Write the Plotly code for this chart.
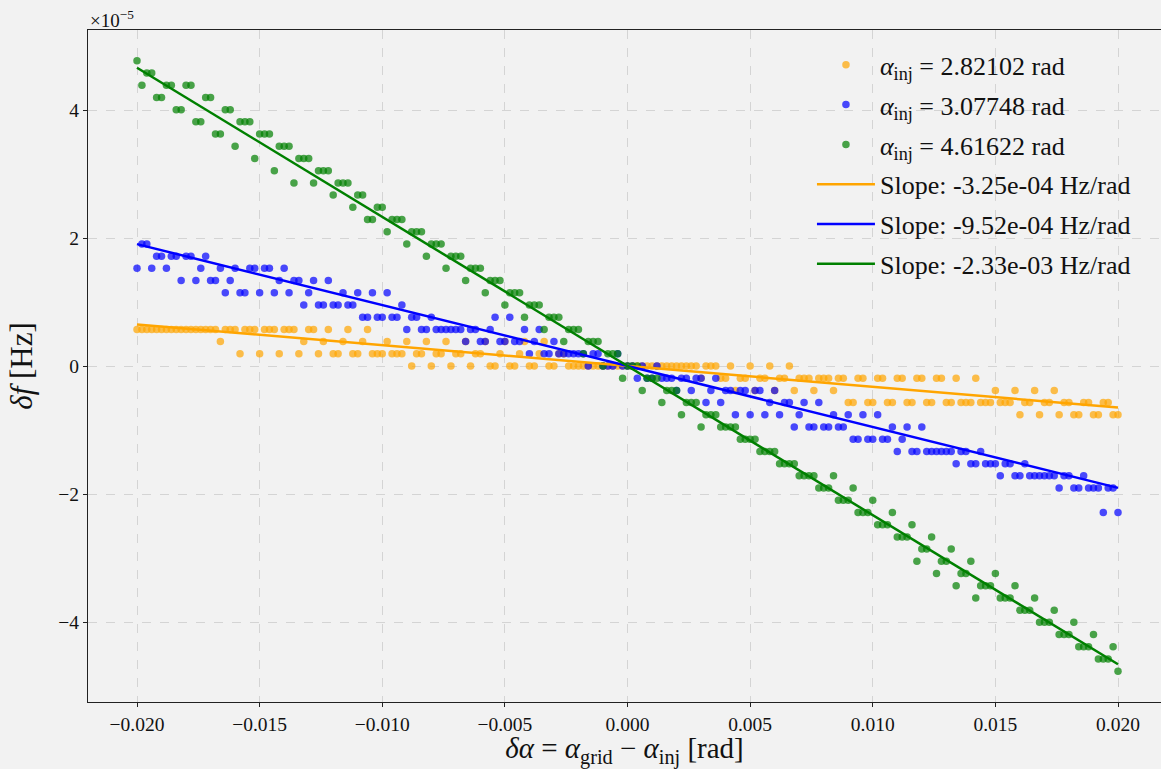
import numpy as np
import plotly.graph_objects as go

# ---------------- data ----------------
# offset in alpha: grid of 201 values from -0.02 to 0.02 rad
DALPHA = np.linspace(-0.02, 0.02, 201)

# frequency offsets are quantised; values stored as integer bins of BIN_HZ
BIN_HZ = 2.0 ** -19

ORANGE_BINS = [
    3, 3, 3, 3, 3, 3, 3, 3, 3, 3,
    3, 3, 3, 3, 3, 3, 3, 2, 3, 3,
    3, 1, 3, 3, 3, 1, 3, 3, 3, 1,
    3, 3, 3, 1, 2, 3, 3, 1, 2, 3,
    1, 1, 2, 3, 1, 1, 2, 3, 1, 1,
    1, 2, 1, 1, 1, 2, 0, 1, 1, 2,
    0, 1, 1, 2, 0, 1, 1, 2, 0, 1,
    1, 2, 0, 0, 1, 2, 0, 0, 1, 2,
    0, 0, 1, 2, 0, 0, 1, 1, 0, 0,
    0, 0, 0, 0, 0, 0, 0, 0, 0, 0,
    0, 0, 0, 0, 0, 0, 0, 0, 0, 0,
    0, 0, 0, 0, 0, -1, 0, 0, 0, -1,
    -1, 0, -2, -1, -1, 0, -2, -1, -1, 0,
    -2, -1, -1, 0, -2, -1, -1, -1, -2, -1,
    -1, -1, -2, -1, -1, -3, -3, -1, -1, -3,
    -3, -1, -1, -3, -3, -1, -1, -3, -3, -1,
    -1, -3, -3, -1, -1, -3, -3, -1, -3, -3,
    -3, -1, -3, -3, -3, -2, -3, -3, -3, -2,
    -4, -3, -3, -2, -4, -3, -3, -2, -4, -3,
    -3, -4, -4, -3, -3, -4, -4, -3, -3, -4,
    -4,
]

BLUE_BINS = [
    8, 10, 10, 8, 9, 9, 8, 9, 9, 7,
    9, 9, 7, 8, 9, 7, 7, 8, 6, 7,
    8, 6, 6, 8, 8, 6, 8, 8, 6, 7,
    8, 6, 7, 7, 5, 6, 7, 5, 5, 7,
    5, 5, 6, 5, 5, 6, 4, 4, 6, 4,
    4, 6, 4, 4, 5, 3, 4, 4, 3, 3,
    4, 3, 3, 3, 3, 3, 3, 2, 3, 3,
    2, 2, 3, 4, 2, 2, 4, 2, 2, 3,
    1, 2, 3, 1, 1, 2, 1, 1, 1, 1,
    1, 1, 0, 1, 1, 0, 0, 0, 1, 0,
    0, 0, -1, 0, -1, -1, 0, -1, -1, -1,
    -2, -1, -1, -2, -1, -1, -3, -2, -1, -3,
    -2, -2, -4, -2, -2, -4, -2, -2, -4, -3,
    -2, -4, -3, -3, -5, -4, -3, -5, -5, -3,
    -5, -5, -4, -5, -5, -4, -6, -6, -4, -6,
    -6, -4, -6, -6, -5, -7, -6, -5, -7, -7,
    -5, -7, -7, -7, -7, -7, -7, -8, -7, -7,
    -8, -8, -7, -8, -8, -8, -9, -8, -8, -9,
    -9, -8, -9, -9, -9, -9, -9, -9, -10, -9,
    -9, -10, -10, -9, -10, -10, -10, -12, -10, -10,
    -12,
]

GREEN_BINS = [
    25, 23, 24, 24, 22, 22, 23, 23, 21, 21,
    23, 23, 20, 20, 22, 22, 19, 19, 21, 21,
    18, 20, 20, 20, 17, 19, 19, 19, 16, 18,
    18, 18, 15, 17, 17, 17, 15, 16, 16, 16,
    14, 15, 15, 15, 13, 14, 14, 12, 12, 13,
    13, 11, 12, 12, 12, 10, 11, 11, 11, 9,
    10, 10, 10, 8, 9, 9, 9, 7, 8, 8,
    8, 6, 7, 7, 7, 5, 6, 6, 6, 4,
    5, 5, 5, 3, 4, 4, 4, 2, 3, 3,
    3, 1, 2, 2, 2, 0, 1, 1, 1, -1,
    0, 0, 0, -2, -1, -1, -1, -3, -2, -2,
    -2, -4, -3, -3, -3, -5, -4, -4, -4, -5,
    -5, -5, -5, -6, -6, -6, -6, -7, -7, -7,
    -7, -8, -8, -8, -8, -9, -9, -9, -9, -10,
    -10, -10, -9, -11, -11, -11, -10, -12, -12, -12,
    -11, -13, -13, -13, -12, -14, -14, -14, -13, -16,
    -15, -15, -14, -17, -16, -16, -15, -18, -17, -17,
    -16, -19, -18, -18, -18, -17, -19, -19, -19, -18,
    -20, -20, -20, -19, -21, -21, -21, -20, -22, -22,
    -22, -21, -23, -23, -23, -22, -24, -24, -24, -23,
    -25,
]

SERIES_LABELS = ["2.82102", "3.07748", "4.61622"]
SLOPES = [-3.25e-04, -9.52e-04, -2.33e-03]          # Hz/rad, from the legend
SLOPE_LABELS = ["-3.25e-04", "-9.52e-04", "-2.33e-03"]
COLORS = ["#FFA500", "#0000FF", "#008000"]

Y_TICKS = [-4, -2, 0, 2, 4]          # in units of 1e-5 Hz
X_TICKS = [-0.020, -0.015, -0.010, -0.005, 0.000, 0.005, 0.010, 0.015, 0.020]

# ---------------- figure ----------------
FONT = "Liberation Serif"
BG = "#F2F2F2"

fig = go.Figure()
series = [ORANGE_BINS, BLUE_BINS, GREEN_BINS]

for bins, lab, col, i in zip(series, SERIES_LABELS, COLORS, range(3)):
    y = np.array(bins, dtype=float) * BIN_HZ
    fig.add_trace(go.Scatter(
        x=DALPHA, y=y, mode="markers",
        marker=dict(size=7.5, color=col, opacity=0.7, line=dict(width=0)),
        name=f"<i>α</i><sub>inj</sub> = {lab} rad",
        legendgroup=f"s{i}",
    ))

for k, lab, col, i in zip(SLOPES, SLOPE_LABELS, COLORS, range(3)):
    xl = np.array([DALPHA[0], DALPHA[-1]])
    fig.add_trace(go.Scatter(
        x=xl, y=k * xl, mode="lines",
        line=dict(color=col, width=2.5),
        name=f"Slope: {lab} Hz/rad",
        legendgroup=f"l{i}",
    ))

# axis geometry (pixel layout of the reference)
PX_PER = 981 / 0.04
x_left = -0.02 - 49 / PX_PER
x_right = x_left + 1073 / PX_PER

fig.update_layout(
    width=1161, height=769,
    margin=dict(l=88, r=0, t=30, b=67),
    paper_bgcolor=BG, plot_bgcolor=BG,
    font=dict(family=FONT, size=19, color="#111"),
    showlegend=True,
    legend=dict(
        x=0.6747, y=0.983, xanchor="left", yanchor="top",
        bgcolor="rgba(0,0,0,0)", borderwidth=0,
        font=dict(family=FONT, size=26, color="#111"),
        tracegroupgap=3, traceorder="grouped", itemwidth=58,
    ),
    xaxis=dict(
        range=[x_left, x_right],
        tickvals=X_TICKS, tickformat=".3f",
        showgrid=True, gridcolor="#D4D4D4", griddash="dash", gridwidth=1,
        zeroline=False,
        showline=True, linecolor="#222", linewidth=1.2, mirror=True,
        ticks="outside", ticklen=4, tickcolor="#222",
        tickfont=dict(family=FONT, size=19.5),
        title=dict(text="<i>δα</i> = <i>α</i><sub>grid</sub> − <i>α</i><sub>inj</sub> [rad]",
                   font=dict(family=FONT, size=29), standoff=9),
    ),
    yaxis=dict(
        range=[-5.25e-5, 5.25e-5],
        tickvals=[v * 1e-5 for v in Y_TICKS],
        ticktext=[("−" + str(-v)) if v < 0 else str(v) for v in Y_TICKS],
        showgrid=True, gridcolor="#D4D4D4", griddash="dash", gridwidth=1,
        zeroline=False,
        showline=True, linecolor="#222", linewidth=1.2, mirror=False,
        ticks="outside", ticklen=4, tickcolor="#222",
        tickfont=dict(family=FONT, size=19.5),
        title=dict(text="<i>δf</i> [Hz]", font=dict(family=FONT, size=31), standoff=16),
    ),
)

fig.add_annotation(
    xref="paper", yref="paper", x=0, y=1, xanchor="left", yanchor="bottom",
    text="×10<sup>−5</sup>", showarrow=False,
    font=dict(family=FONT, size=19, color="#111"), yshift=-3,
)

fig.write_html("out.html")
